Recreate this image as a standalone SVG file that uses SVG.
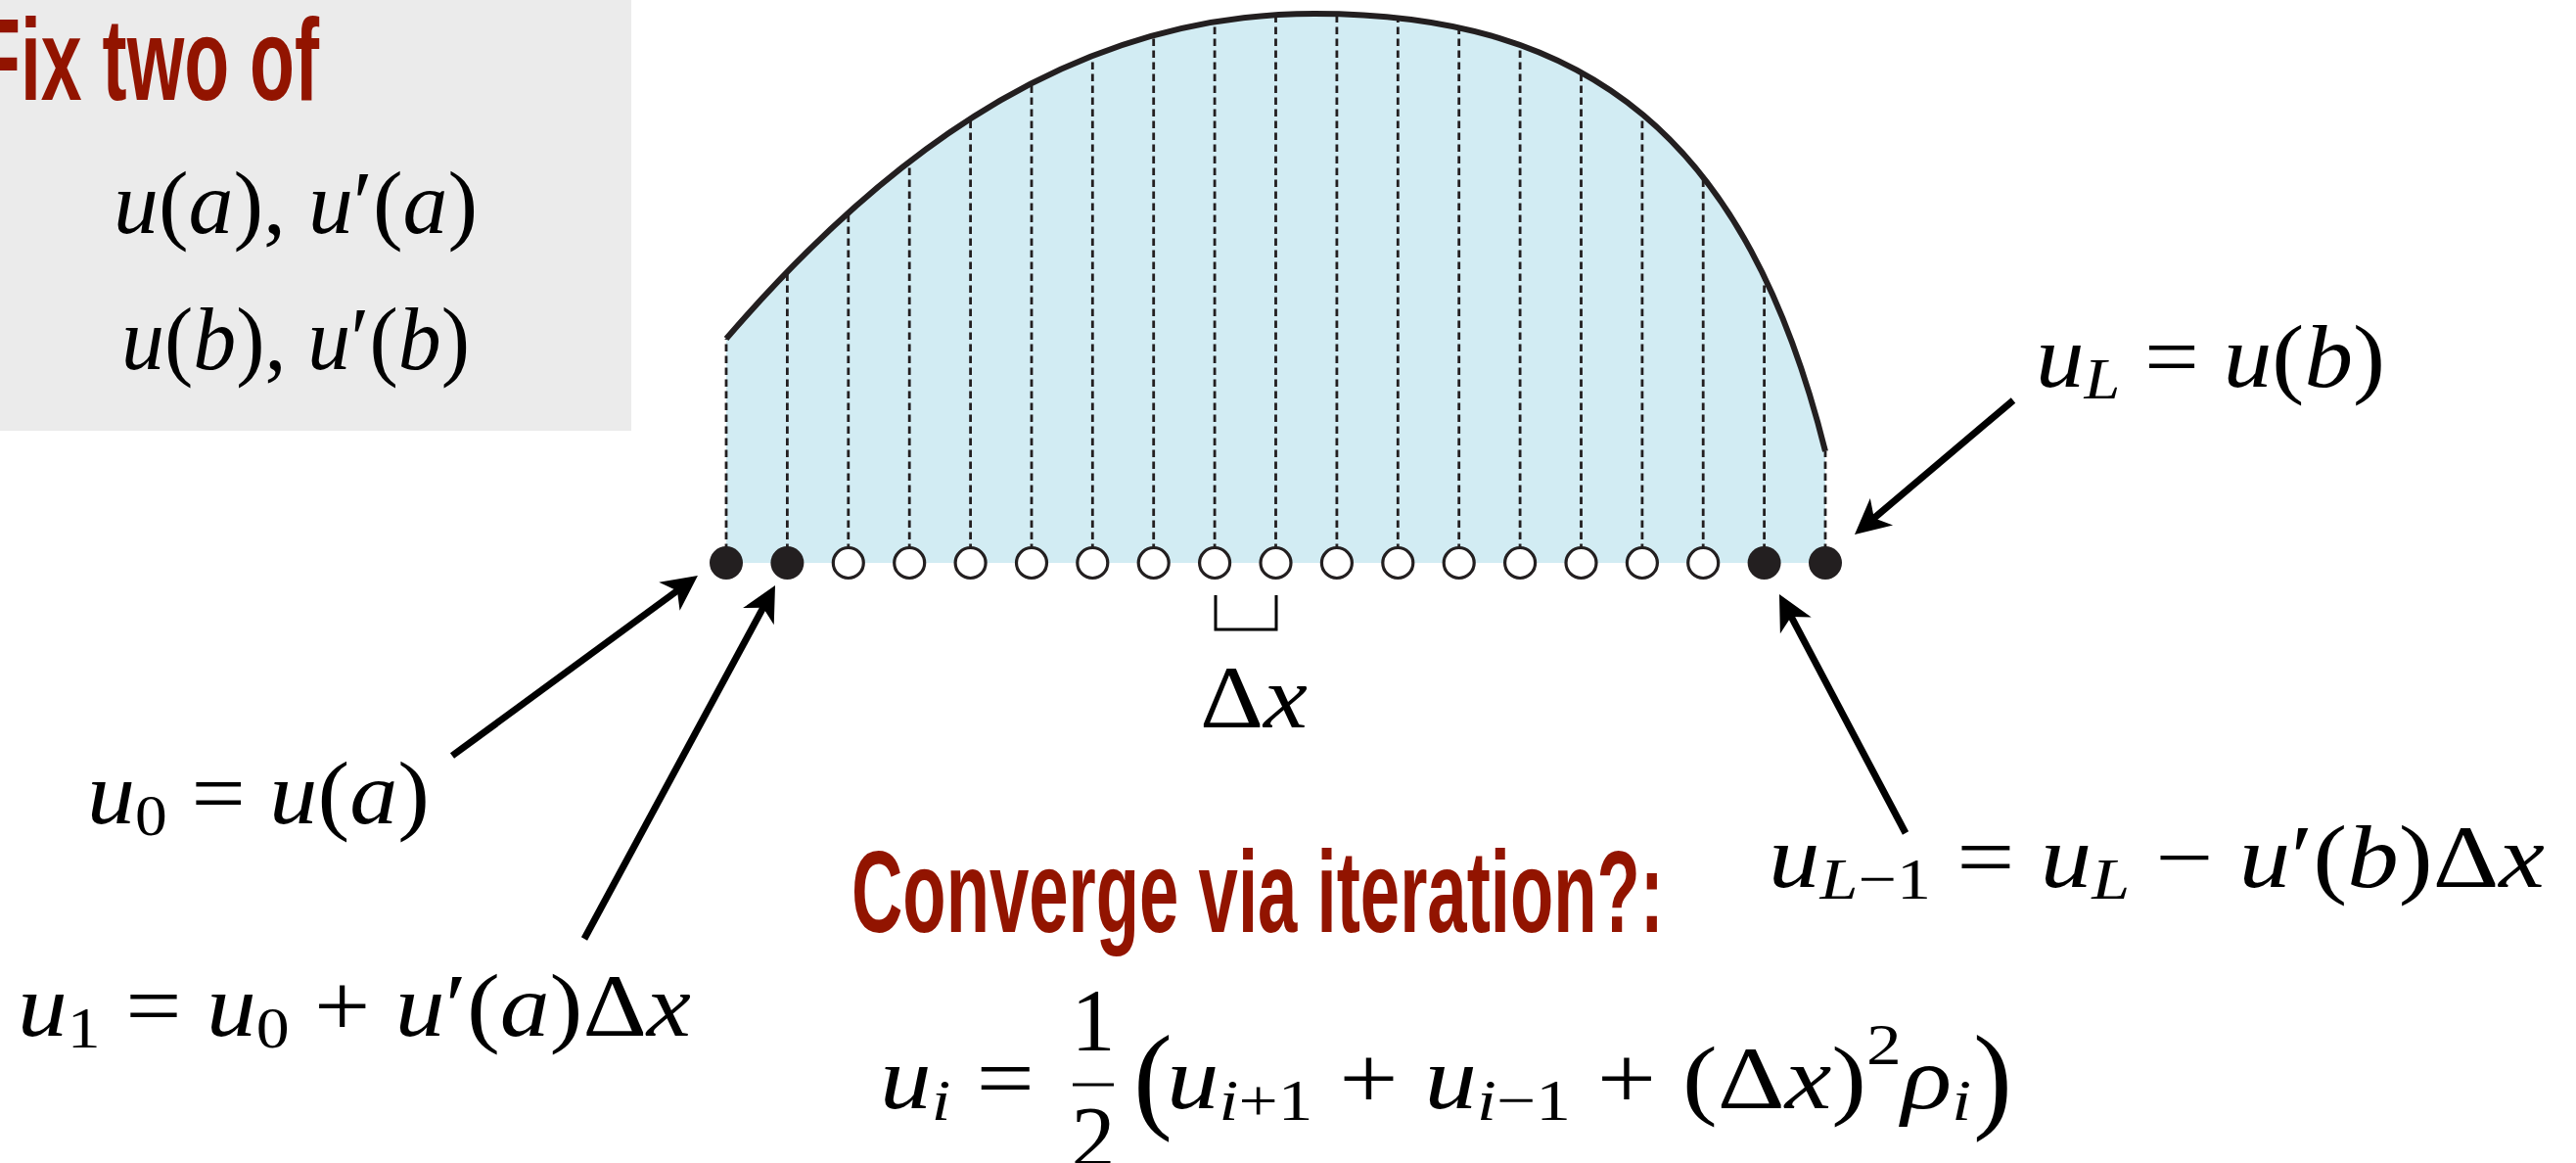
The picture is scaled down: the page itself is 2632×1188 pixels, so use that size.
<svg xmlns="http://www.w3.org/2000/svg" width="2632" height="1188" viewBox="0 0 2632 1188">
<style>
.m{font-family:"Liberation Serif","DejaVu Serif",serif;font-size:90px;fill:#000}
.i{font-style:italic}
.s{font-size:60px}
.h{font-family:"Liberation Sans Narrow","Liberation Sans","DejaVu Sans Condensed",sans-serif;font-weight:bold;font-size:118px;fill:#921400}
.dash{stroke:#231f20;stroke-width:2.8;stroke-dasharray:7.5 4.5;fill:none}
.full{fill:#231f20}
.open{fill:#fff;stroke:#231f20;stroke-width:3.2}
.arr{stroke:#000;stroke-width:7;fill:none;marker-end:url(#ah)}
</style>
<defs>
<marker id="ah" markerUnits="userSpaceOnUse" markerWidth="44" markerHeight="44" viewBox="-40 -22 44 44" refX="-24" refY="0" orient="auto">
<path d="M0,0 L-36,-18 L-26,0 L-36,18 Z" fill="#000"/>
</marker>
<clipPath id="area"><path d="M739,576 L739,346 L742,346 C922,137 1113,14 1343,14 C1623,14 1785,141 1865,461 L1868,461 L1868,576 Z"/></clipPath>
</defs>
<rect width="2632" height="1188" fill="#fff"/>
<g id="box">
<rect x="0" y="0" width="645" height="440" fill="#ebebeb"/>
<text class="h" x="-25" y="102" textLength="351" lengthAdjust="spacingAndGlyphs">Fix two of</text>
<text class="m" x="116" y="238" textLength="372" lengthAdjust="spacingAndGlyphs"><tspan class="i">u</tspan>(<tspan class="i">a</tspan>), <tspan class="i">u</tspan>′(<tspan class="i">a</tspan>)</text>
<text class="m" x="124" y="377" textLength="356" lengthAdjust="spacingAndGlyphs"><tspan class="i">u</tspan>(<tspan class="i">b</tspan>), <tspan class="i">u</tspan>′(<tspan class="i">b</tspan>)</text>
</g>
<g id="plot">
<path d="M742,575 L742,346 C922,137 1113,14 1343,14 C1623,14 1785,141 1865,461 L1865,575 Z" fill="#d2ecf3"/>
<g clip-path="url(#area)">
<path class="dash" d="M742,575V0M804.4,575V0M866.8,575V0M929.2,575V0M991.6,575V0M1054,575V0M1116.3,575V0M1178.7,575V0M1241.1,575V0M1303.5,575V0M1365.9,575V0M1428.3,575V0M1490.7,575V0M1553.1,575V0M1615.5,575V0M1677.9,575V0M1740.2,575V0M1802.6,575V0M1865,575V0"/>
</g>
<path d="M742,346 C922,137 1113,14 1343,14 C1623,14 1785,141 1865,461" fill="none" stroke="#231f20" stroke-width="6"/>
</g>
<g id="nodes">
<circle class="full" cx="742" cy="575" r="17"/>
<circle class="full" cx="804.4" cy="575" r="17"/>
<circle class="open" cx="866.8" cy="575" r="15.5"/>
<circle class="open" cx="929.2" cy="575" r="15.5"/>
<circle class="open" cx="991.6" cy="575" r="15.5"/>
<circle class="open" cx="1054" cy="575" r="15.5"/>
<circle class="open" cx="1116.3" cy="575" r="15.5"/>
<circle class="open" cx="1178.7" cy="575" r="15.5"/>
<circle class="open" cx="1241.1" cy="575" r="15.5"/>
<circle class="open" cx="1303.5" cy="575" r="15.5"/>
<circle class="open" cx="1365.9" cy="575" r="15.5"/>
<circle class="open" cx="1428.3" cy="575" r="15.5"/>
<circle class="open" cx="1490.7" cy="575" r="15.5"/>
<circle class="open" cx="1553.1" cy="575" r="15.5"/>
<circle class="open" cx="1615.5" cy="575" r="15.5"/>
<circle class="open" cx="1677.9" cy="575" r="15.5"/>
<circle class="open" cx="1740.2" cy="575" r="15.5"/>
<circle class="full" cx="1802.6" cy="575" r="17"/>
<circle class="full" cx="1865" cy="575" r="17"/>
</g>
<g id="dx">
<path d="M1242,608 V643 H1304 V608" fill="none" stroke="#000" stroke-width="3"/>
<text class="m" x="1226" y="743" textLength="110" lengthAdjust="spacingAndGlyphs">Δ<tspan class="i">x</tspan></text>
</g>
<g id="connectors">
<line class="arr" x1="462" y1="772" x2="693.6" y2="602.2"/>
<line class="arr" x1="597" y1="959" x2="780.6" y2="619.1"/>
<line class="arr" x1="2057" y1="409" x2="1913.3" y2="530.5"/>
<line class="arr" x1="1947" y1="851" x2="1829.2" y2="628.2"/>
</g>
<g id="label-u0">
<text class="m" x="89" y="841" textLength="350" lengthAdjust="spacingAndGlyphs"><tspan class="i">u</tspan><tspan class="s" dy="12">0</tspan><tspan dy="-12"> = </tspan><tspan class="i">u</tspan>(<tspan class="i">a</tspan>)</text>
</g>
<g id="label-u1">
<text class="m" x="18" y="1058" textLength="688" lengthAdjust="spacingAndGlyphs"><tspan class="i">u</tspan><tspan class="s" dy="12">1</tspan><tspan dy="-12"> = </tspan><tspan class="i">u</tspan><tspan class="s" dy="12">0</tspan><tspan dy="-12"> + </tspan><tspan class="i">u</tspan>′(<tspan class="i">a</tspan>)Δ<tspan class="i">x</tspan></text>
</g>
<g id="label-uL">
<text class="m" x="2080" y="395" textLength="357" lengthAdjust="spacingAndGlyphs"><tspan class="i">u</tspan><tspan class="s i" dy="12">L</tspan><tspan dy="-12"> = </tspan><tspan class="i">u</tspan>(<tspan class="i">b</tspan>)</text>
</g>
<g id="label-uL1">
<text class="m" x="1807" y="906" textLength="793" lengthAdjust="spacingAndGlyphs"><tspan class="i">u</tspan><tspan class="s" dy="12"><tspan class="i">L</tspan>−1</tspan><tspan dy="-12"> = </tspan><tspan class="i">u</tspan><tspan class="s i" dy="12">L</tspan><tspan dy="-12"> − </tspan><tspan class="i">u</tspan>′(<tspan class="i">b</tspan>)Δ<tspan class="i">x</tspan></text>
</g>
<g id="iteration">
<text class="h" x="870" y="952" textLength="830" lengthAdjust="spacingAndGlyphs">Converge via iteration?:</text>
<text class="m" x="899" y="1132" textLength="158" lengthAdjust="spacingAndGlyphs"><tspan class="i">u</tspan><tspan class="s i" dy="12">i</tspan><tspan dy="-12"> =</tspan></text>
<text class="m" x="1117" y="1073" text-anchor="middle">1</text>
<line x1="1096" y1="1108" x2="1138" y2="1108" stroke="#000" stroke-width="3"/>
<text class="m" x="1117" y="1193" text-anchor="middle">2</text>
<text class="m" x="1158" y="1141" style="font-size:120px">(</text>
<text class="m" x="1192" y="1132" textLength="822" lengthAdjust="spacingAndGlyphs"><tspan class="i">u</tspan><tspan class="s" dy="12"><tspan class="i">i</tspan>+1</tspan><tspan dy="-12"> + </tspan><tspan class="i">u</tspan><tspan class="s" dy="12"><tspan class="i">i</tspan>−1</tspan><tspan dy="-12"> + </tspan>(Δ<tspan class="i">x</tspan>)<tspan class="s" dy="-45">2</tspan><tspan class="i" dy="45">ρ</tspan><tspan class="s i" dy="12">i</tspan></text>
<text class="m" x="2016" y="1141" style="font-size:120px">)</text>
</g>
</svg>
